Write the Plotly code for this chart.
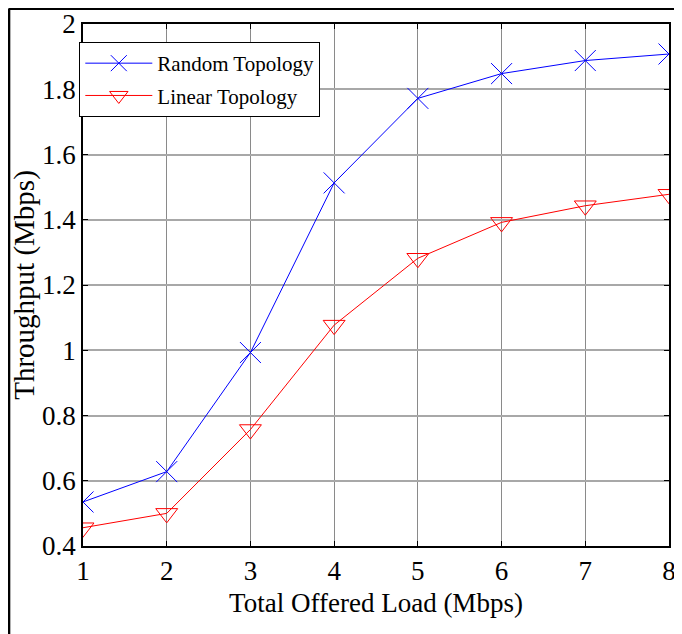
import plotly.graph_objects as go

load = [1, 2, 3, 4, 5, 6, 7, 8]
random_topology = [0.535, 0.628, 0.993, 1.513, 1.772, 1.848, 1.888, 1.908]
linear_topology = [0.456, 0.500, 0.757, 1.077, 1.282, 1.392, 1.443, 1.478]
y_ticks = [0.4, 0.6, 0.8, 1.0, 1.2, 1.4, 1.6, 1.8, 2.0]
y_tick_text = ["0.4", "0.6", "0.8", "1", "1.2", "1.4", "1.6", "1.8", "2"]

FONT = "Liberation Serif, Times New Roman, serif"

fig = go.Figure()
fig.add_trace(go.Scatter(
    x=load, y=random_topology, mode="lines+markers", name="Random Topology",
    legendgroup="a",
    line=dict(color="#0000ff", width=1),
    marker=dict(symbol="x-thin-open", size=21, line=dict(color="#0000ff", width=1)),
))
fig.add_trace(go.Scatter(
    x=load, y=linear_topology, mode="lines+markers", name="Linear Topology",
    legendgroup="b",
    line=dict(color="#ff0000", width=1),
    marker=dict(symbol="triangle-down-open", size=19, color="#ff0000",
                line=dict(color="#ff0000", width=1)),
))

fig.update_layout(
    width=682, height=634,
    margin=dict(l=75, r=21, t=16, b=96, autoexpand=False),
    paper_bgcolor="white", plot_bgcolor="white",
    font=dict(family=FONT, color="black", size=22),
    showlegend=True,
    legend=dict(
        x=-0.0063, y=0.9655, xanchor="left", yanchor="top",
        bgcolor="white", bordercolor="black", borderwidth=1,
        font=dict(family=FONT, size=21, color="black"),
        tracegroupgap=2, itemwidth=67,
    ),
    shapes=[
        dict(type="line", xref="paper", yref="paper",
             x0=-0.1266, x1=1.1, y0=1.0297, y1=1.0297,
             line=dict(color="black", width=3)),
        dict(type="line", xref="paper", yref="paper",
             x0=-0.1266, x1=-0.1266, y0=1.0297, y1=-0.3,
             line=dict(color="black", width=3)),
    ],
)

fig.update_xaxes(
    range=[1, 8], tickvals=load, ticktext=[str(v) for v in load],
    automargin=False,
    showgrid=True, gridcolor="#8a8a8a", gridwidth=1,
    showline=True, linecolor="black", linewidth=1.5, mirror="ticks",
    ticks="inside", ticklen=5, tickcolor="black",
    tickfont=dict(family=FONT, size=27),
    title=dict(text="Total Offered Load (Mbps)", font=dict(family=FONT, size=27), standoff=8),
    zeroline=False,
)
fig.update_yaxes(
    range=[0.4, 2.0], tickvals=y_ticks, ticktext=y_tick_text,
    automargin=False,
    showgrid=True, gridcolor="#a8a8a8", gridwidth=1.5,
    showline=True, linecolor="black", linewidth=1.5, mirror="ticks",
    ticks="inside", ticklen=5, tickcolor="black",
    tickfont=dict(family=FONT, size=27),
    title=dict(text="Throughput (Mbps)", font=dict(family=FONT, size=29), standoff=9),
    zeroline=False,
)

fig.write_html("out.html")
